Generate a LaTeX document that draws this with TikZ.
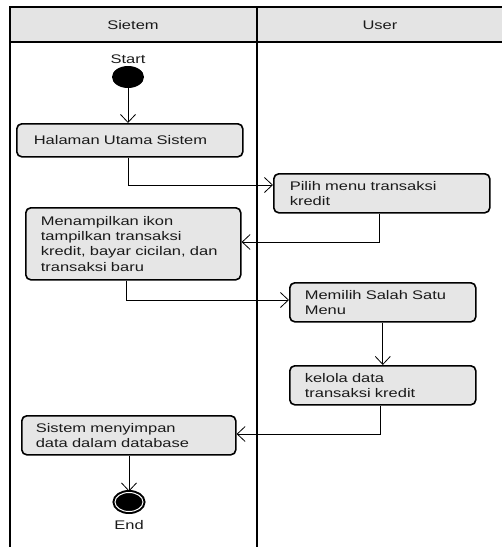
\documentclass[tikz,border=0pt]{standalone}
\usepackage{fontspec}
\setmainfont{Liberation Sans}[FakeStretch=1.32]
\usetikzlibrary{arrows.meta,shapes.geometric}
\definecolor{boxgray}{HTML}{E6E6E6}
\definecolor{headgray}{HTML}{E4E4E4}
\definecolor{inkc}{HTML}{1A1A1A}
\tikzset{
  actbox/.style={draw=black, line width=1.6pt, fill=boxgray, rounded corners=5pt,
    anchor=north west, align=left, text=inkc, inner xsep=15pt, inner ysep=0pt,
    font=\fontsize{12.5}{15.3}\selectfont},
  lane/.style={draw=black, line width=1.6pt},
  lbl/.style={text=inkc, font=\fontsize{12.5}{15.3}\selectfont, inner sep=0pt},
  arr/.style={draw=black, line width=0.8pt, -{Straight Barb[length=8pt,width=15pt,line width=0.8pt]}},
}
\begin{document}
\begin{tikzpicture}[x=1pt,y=-1pt]
\useasboundingbox (0,0) rectangle (502,547);
% swimlanes
\fill[headgray] (10,7) rectangle (504,42);
\draw[lane] (504,7) -- (10,7) -- (10,549);
\draw[lane] (10,42) -- (504,42);
\draw[lane] (257,7) -- (257,549);
\node[lbl] (h1) at (133,25) {Sietem};
\node[lbl] (h2) at (380,25) {User};
% start
\node[lbl] (startlbl) at (128,59) {Start};
\node[ellipse, fill=black, minimum width=32pt, minimum height=22pt, inner sep=0pt] (start) at (128,77) {};
% activities
\node[actbox, minimum width=226pt, minimum height=33pt, text width=192pt, inner xsep=17pt] (hal) at (16,123) {Halaman Utama Sistem};
\node[actbox, minimum width=216pt, minimum height=39pt, text width=184pt, inner xsep=16pt] (pilih) at (273,173) {Pilih menu transaksi\\kredit};
\node[actbox, minimum width=215pt, minimum height=72pt, text width=185pt] (men) at (25,207) {Menampilkan ikon\\tampilkan transaksi\\kredit, bayar cicilan, dan\\transaksi baru};
\node[actbox, minimum width=186pt, minimum height=39pt, text width=156pt] (memilih) at (289,282) {Memilih Salah Satu\\Menu};
\node[actbox, minimum width=186pt, minimum height=39pt, text width=156pt] (kelola) at (289,365) {kelola data\\transaksi kredit};
\node[actbox, minimum width=214pt, minimum height=39pt, text width=186pt, inner xsep=14pt] (sis) at (21,415) {Sistem menyimpan\\data dalam database};
% end
\node[ellipse, draw=black, line width=2pt, fill=black, double=white, double distance=1pt, minimum width=28pt, minimum height=19pt, inner sep=0pt] (endn) at (129,502) {};
\node[lbl] (endlbl) at (129,525) {End};
% helper coordinates
\coordinate (c1) at (128,185);
\coordinate (c2) at (379,242);
\coordinate (c3) at (126,300);
\coordinate (c4) at (380,434);
% connectors
\draw[arr] (start.south) -- (start.south |- hal.north);
\draw[arr] (hal.south -| c1) -- (c1) -- (c1 -| pilih.west);
\draw[arr] (pilih.south -| c2) -- (c2) -- (c2 -| men.east);
\draw[arr] (men.south -| c3) -- (c3) -- (c3 -| memilih.west);
\draw[arr] (memilih.south) -- (kelola.north);
\draw[arr] (kelola.south -| c4) -- (c4) -- (c4 -| sis.east);
\draw[arr] (sis.south -| endn) -- (endn.north);
\end{tikzpicture}
\end{document}
